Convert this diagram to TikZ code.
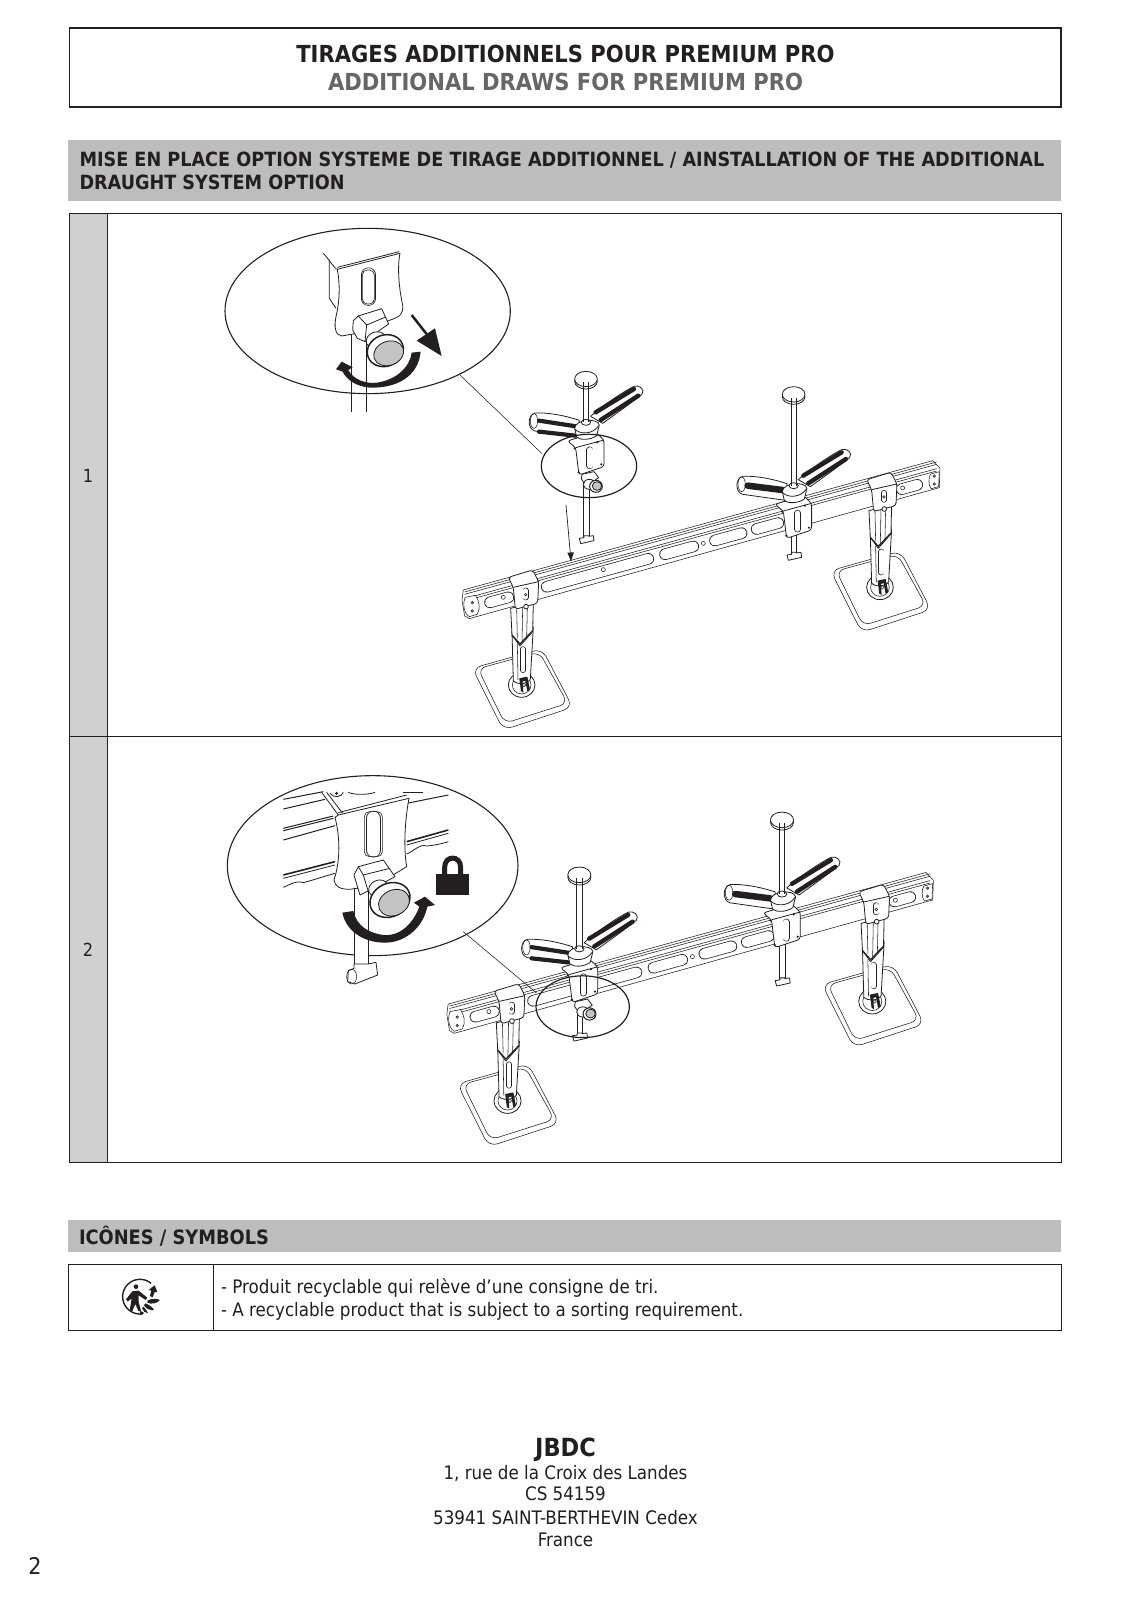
\documentclass[tikz,border=0pt]{standalone}
\usepackage{fontspec}
\setmainfont{DejaVu Sans Condensed}
\usetikzlibrary{calc}
\definecolor{bandgrey}{HTML}{BDBDBD}
\definecolor{cellgrey}{HTML}{D0D0D0}
\definecolor{knobgrey}{HTML}{C4C4C4}
\definecolor{inkc}{HTML}{231F20}
\tikzset{
 ln/.style={draw=inkc,line width=0.8pt,line join=round},
 wln/.style={ln,fill=white},
 thn/.style={draw=inkc,line width=0.55pt},
 wthn/.style={thn,fill=white,line join=round},
 frame/.style={draw=inkc,line width=1pt},
 lab/.style={inner sep=0pt,outer sep=0pt,text=inkc},
 bodyf/.style={font=\fontsize{18.6}{22}\selectfont},
}
\newcommand\slotm[5]{\draw[inkc,line width=#5pt,line cap=round] (#1,#2)--(#3,#4);\draw[white,line width=#5pt-1.4pt,line cap=round] (#1,#2)--(#3,#4);}
\newcommand\barslot[2]{\pgfmathsetmacro\ya{745-0.275*(#1-85)}\pgfmathsetmacro\yb{745-0.275*(#2-85)}\slotm{#1}{\ya}{#2}{\yb}{11.5}}
\newcommand\railline[1]{\pgfmathsetmacro\yr{#1-390}\draw[thn] (74,#1)--(1490,\yr);}
% bar with slots
\newcommand\barm{
 \draw[wthn] (70,690)--(1478,302)--(1500,325)--(1498,383)--(88,776)--(74,768)--(66,720)--cycle;
 \foreach \yy in {696,703,716,723}{\railline{\yy}}
 \draw[wthn] (76,712)..controls (68,728) and (70,760)..(88,770)--(112,763)..controls (122,745) and (118,722)..(106,706)--cycle;
 \draw[wthn] (1472,342)..controls (1465,352) and (1465,378)..(1474,386)--(1496,380)--(1498,335)--cycle;
 \foreach \p in {(97,728),(97,753),(1483,348),(1483,372)}{\draw[inkc,fill=inkc!60] \p circle (4);}
 \barslot{150}{205}\barslot{320}{625}\barslot{675}{760}\barslot{825}{905}\barslot{950}{1015}\barslot{1385}{1432}
 \foreach \p in {(190,712),(490,629),(790,550),(1388,384)}{\draw[thn] \p circle (6);}
}
% leg, foot and end clamp
\newcommand\legunit[2]{\begin{scope}[shift={(#1,#2)}]
 \draw[wthn,rounded corners=9pt] (97,925)--(306,866)--(398,1042)--(190,1110)--cycle;
 \draw[thn,rounded corners=8pt] (114,926)--(298,876)--(383,1030)--(194,1090)--cycle;
 \draw[wln] (245,975) ellipse [x radius=40,y radius=37];
 \draw[thn] (245,975) ellipse [x radius=28,y radius=27];
 \draw[wln] (216,815)--(280,800)--(271,958)..controls (262,974) and (228,974)..(220,962)--cycle;
 \draw[thn] (232,850)--(234,960);
 \slotm{249}{868}{249}{930}{6}
 \draw[wln] (212,745)--(280,728)--(278,815)--(240,858)--(216,825)--cycle;
 \draw[thn] (230,745)--(232,835);\draw[thn] (248,742)--(246,850);\draw[thn] (262,738)--(260,835);
 \draw[inkc,line width=1.2pt] (216,825)--(240,852)--(278,812);
 \fill[inkc] (238,955)--(262,950)--(270,990)--(262,994)--(256,962)--(248,965)--(250,998)--(243,994)--cycle;
 \draw[thn,fill=white] (252,975) circle (5);
 \draw[wln,rounded corners=3pt] (205,652)--(278,630)--(296,665)--(293,730)--(262,738)--(226,748)--(220,682)--cycle;
 \draw[ln] (220,682)--(296,665);
 \slotm{257}{692}{257}{712}{6}
 \draw[thn] (257,704) circle (4);
 \draw[wln] (258,740) circle (7);
\end{scope}}
% hand tool: hub x,y; cap y; T y; two stripes; knob
\newcommand\toolm[6]{\begin{scope}[shift={(#1,#2)}]
 \pgfmathsetmacro\tp{#3-#2}\pgfmathsetmacro\bt{#4-#2}
 \draw[wln] (-9,100) rectangle (7,\bt);
 \draw[wln] (-22,\bt-2)--(-8,\bt-4)--(-8,\bt-10)--(6,\bt-10)--(6,\bt-8)--(20,\bt-10)--(22,\bt+5)--(-18,\bt+14)--cycle;
 \draw[wln,rounded corners=3pt] (-58,48)--(27,22)--(52,45)--(52,125)--(-23,150)--(-33,68)--cycle;
 \draw[ln] (-33,68)--(52,45);
 \slotm{10}{75}{10}{122}{7}
 \foreach \p in {(-36,70),(32,52),(-24,142),(44,118)}{\fill[inkc] \p circle (3.5);}
 \draw[wln] (-10,\tp+10) rectangle (6,-5);
 \draw[wln] (-2,\tp+7) ellipse [x radius=34,y radius=23];
 \draw[wln] (-2,\tp) ellipse [x radius=34,y radius=23];
 % right handle
 \draw[wln] (12,-26)--(30,-42)..controls (70,-72) and (110,-100)..(142,-116)..controls (158,-122) and (176,-106)..(166,-92)..controls (125,-60) and (90,-35)..(48,-5)--cycle;
 \draw[inkc,line width=4.4pt,line cap=round] (27,-38)--(142,-108);
 \draw[inkc,line width=4.4pt,line cap=round] (42,-15)--(155,-88);
 % left handle
 \draw[wln] (-22,-14)..controls (-70,-30) and (-120,-38)..(-155,-36)..controls (-178,-30) and (-178,12)..(-155,18)..controls (-110,24) and (-60,32)..(-24,36)--cycle;
 \draw[thn] (-158,-12) ellipse [x radius=11,y radius=22];
 \ifnum#5=1
  \draw[inkc,line width=4.2pt,line cap=round] (-143,-13)--(-32,4);
  \draw[inkc,line width=4.2pt,line cap=round] (-143,20)--(-34,32);
 \else
  \draw[inkc,line width=6.5pt,line cap=round] (-140,-8)--(-36,5);
 \fi
 % hub
 \draw[wln] (-36,10)..controls (-34,-18) and (34,-22)..(38,0)--(30,32)..controls (10,46) and (-20,46)..(-30,36)--cycle;
 \draw[ln] (-36,12)..controls (-20,30) and (20,28)..(36,2);
 \draw[wln] (-2,-8) ellipse [x radius=14,y radius=9];
 \draw[wln] (-10,\tp+10) -- (-10,-8) (6,\tp+10) -- (6,-8);
 \ifnum#6=1
  \draw[wln] (-14,148)--(22,140)--(36,158)--(10,176)--(-6,176)--(-16,162)--cycle;
  \draw[wln] (8,178) ellipse [x radius=18,y radius=15];
  \draw[wln,line width=1pt] (28,184) ellipse [x radius=19,y radius=18];
  \draw[ln,fill=knobgrey] (31,183) ellipse [x radius=14,y radius=13];
 \fi
\end{scope}}
\begin{document}
\begin{tikzpicture}[x=1pt,y=-1pt]
\useasboundingbox[fill=white] (0,0) rectangle (1132,1600);
% frames
\draw[inkc,line width=1.5pt] (69.5,28) rectangle (1061,107);
\fill[bandgrey] (68,140) rectangle (1061,201);
\fill[cellgrey] (69,213) rectangle (107.5,1162);
\draw[frame] (69,213) rectangle (1061,1162);
\draw[frame] (107.5,213)--(107.5,1162);
\draw[frame] (69,736)--(1061,736);
\fill[bandgrey] (68,1220) rectangle (1061,1252);
\draw[frame] (68.5,1264.5) rectangle (1061,1330);
\draw[frame] (213.5,1264.5)--(213.5,1330);
% texts
\node[lab,anchor=base,font=\fontsize{23.45}{26}\selectfont\bfseries] (t1) at (565.5,62.3) {TIRAGES ADDITIONNELS POUR PREMIUM PRO};
\node[lab,anchor=base,font=\fontsize{23.45}{26}\selectfont\bfseries,text=black!60] (t2) at (565.5,90.7) {ADDITIONAL DRAWS FOR PREMIUM PRO};
\node[lab,anchor=base west,font=\fontsize{19.6}{22}\selectfont\bfseries] (b1) at (79.5,166.7) {MISE EN PLACE OPTION SYSTEME DE TIRAGE ADDITIONNEL / AINSTALLATION OF THE ADDITIONAL};
\node[lab,anchor=base west,font=\fontsize{19.6}{22}\selectfont\bfseries] (b2) at (79.5,189.3) {DRAUGHT SYSTEM OPTION};
\node[lab,anchor=base,font=\fontsize{18}{20}\selectfont] (n1) at (88,482) {1};
\node[lab,anchor=base,font=\fontsize{18}{20}\selectfont] (n2) at (88,956) {2};
\node[lab,anchor=base west,font=\fontsize{19.8}{22}\selectfont\bfseries] (ic) at (79,1244) {ICÔNES / SYMBOLS};
\node[lab,anchor=base west,bodyf] (s1) at (221,1293) {- Produit recyclable qui relève d’une consigne de tri.};
\node[lab,anchor=base west,bodyf] (s2) at (221,1316) {- A recyclable product that is subject to a sorting requirement.};
\node[lab,anchor=base,font=\fontsize{25}{28}\selectfont\bfseries] (j0) at (565.5,1456) {JBDC};
\node[lab,anchor=base,bodyf] (j1) at (565.5,1479) {1, rue de la Croix des Landes};
\node[lab,anchor=base,bodyf] (j2) at (565.5,1500) {CS 54159};
\node[lab,anchor=base,bodyf] (j3) at (565.5,1524) {53941 SAINT-BERTHEVIN Cedex};
\node[lab,anchor=base,bodyf] (j4) at (565.5,1546) {France};
\node[lab,anchor=base,font=\fontsize{23}{26}\selectfont] (pg) at (35,1574) {2};
% recycling symbol
\begin{scope}[shift={(60,1260)},scale=0.3333]
 \draw[inkc,line width=1.4pt] plot[domain=50:280,samples=40] ({240+52*cos(\x)},{110-52*sin(\x)});
 \fill[inkc] (228,80) circle (7);
 \fill[inkc] (217,94)--(236,92)--(262,113)--(257,120)--(236,106)--(236,126)--(243,152)--(235,153)--(226,132)--(217,153)--(209,152)--(215,116)--(203,124)--(198,118)--cycle;
 \fill[inkc] (284,76)--(292,96)--(284,96)--(278,112)--(270,108)--(274,92)--(266,90)--cycle;
 \fill[inkc] (262,122)..controls (275,114) and (292,116)..(300,120)..controls (292,130) and (274,134)..(262,128)--cycle;
 \fill[inkc] (256,130)..controls (268,134) and (278,142)..(282,150)..controls (270,152) and (258,146)..(252,136)--cycle;
 \fill[inkc] (250,140)..controls (256,146) and (262,152)..(264,160)..controls (256,160) and (248,152)..(246,144)--cycle;
 \fill[inkc] (240,152)--(253,159)--(240,166)--cycle;
\end{scope}
% panel 1 inset
\begin{scope}[shift={(200,210)},scale=0.3333]
 \draw[ln,line width=1.1pt] (503,303) ellipse [x radius=428,y radius=248];
 \draw[ln] (455,370)--(455,605) (498,390)--(498,605);
 \draw[ln] (370,130)..controls (385,145) and (395,165)..(410,178);
 \draw[ln] (388,150)--(388,265)--(408,295);
 \draw[wln] (412,178)--(600,130)..controls (590,180) and (600,250)..(608,285)..controls (610,310) and (605,320)..(565,332)--(460,372)--(425,378)..controls (405,375) and (402,350)..(408,320)..controls (420,270) and (420,220)..(412,178)--cycle;
 \draw[ln] (412,172)--(598,125);
 \slotm{505}{195}{505}{265}{15}
 \draw[inkc,line width=0.6pt,rounded corners=5pt] (487,180) rectangle (523,282);
 \draw[wln] (460,332)--(475,318)--(545,296)--(566,342)--(540,360)--(495,395)--(472,385)--(458,360)--cycle;
 \draw[ln] (475,318)--(500,345)--(495,395) (500,345)--(555,322);
 \draw[wln,rotate around={20:(528,390)}] (528,390) ellipse [x radius=30,y radius=24];
 \draw[wln,rotate around={20:(556,422)},line width=1.5pt] (556,422) ellipse [x radius=55,y radius=47];
 \draw[ln,fill=knobgrey,rotate around={20:(566,430)}] (566,430) ellipse [x radius=46,y radius=36];
 \fill[inkc] (662,425)..controls (655,500) and (590,535)..(510,533)..controls (470,530) and (440,510)..(428,485)--(408,478)--(425,455)--(458,472)--(445,480)..controls (460,510) and (500,522)..(530,518)..controls (590,510) and (630,470)..(635,428)--cycle;
 \draw[inkc,line width=2.5pt] (635,315)--(690,385);
 \fill[inkc] (705,355)--(725,438)--(650,392)--cycle;
 \coordinate (ins1a) at (780,495);
 \coordinate (ins1b) at (1025,730);
 \draw[thn] (ins1a)--(ins1b);
\end{scope}
% panel 1 assembly
\begin{scope}[shift={(440,360)},scale=0.3333]
 \barm
 \legunit{0}{0}
 \legunit{1075}{-293}
 \toolm{1063}{385}{103}{587}{0}{0}
 \toolm{440}{195}{57}{537}{1}{1}
 \draw[ln,line width=1.2pt] (447,318) ellipse [x radius=143,y radius=95];
 \coordinate (ar1a) at (378,435);
 \coordinate (ar1b) at (393,603);
 \draw[thn,line width=0.7pt] (ar1a)--(ar1b);
 \fill[inkc] (ar1b)--(382,578)--(402,577)--cycle;
\end{scope}
% panel 2 inset
\begin{scope}[shift={(210,760)},scale=0.3333]
 \draw[ln,line width=1.1pt] (488,317) ellipse [x radius=436,y radius=270];
 \draw[ln,line width=1pt] (220,118)--(340,95) (220,147)--(345,118) (220,205)--(370,168) (220,212)--(370,175) (220,240)--(375,197);
 \draw[inkc,line width=1.6pt] (220,345)--(375,305);
 \draw[ln] (220,355)--(375,315);
 \draw[ln] (220,382)..controls (240,375) and (255,360)..(280,368)..controls (310,360) and (340,350)..(375,340);
 \draw[ln,line width=1pt] (590,130)--(715,105);
 \draw[inkc,line width=1.6pt] (590,245)--(715,210);
 \draw[ln] (590,255)--(715,220);
 \draw[ln] (590,282)..controls (610,275) and (630,250)..(650,258)..controls (680,255) and (700,250)..(715,245);
 \draw[ln] (580,97)--(640,97);
 \draw[ln] (335,97)--(385,165) (350,97)--(398,160);
 \draw[ln] (360,100)..controls (370,115) and (395,112)..(400,97);
 \fill[inkc] (380,100) circle (5);
 \draw[ln] (415,97)..controls (430,105) and (475,105)..(495,97);
 \draw[wln] (432,385) rectangle (475,612);
 \draw[wln] (375,172)..controls (390,230) and (392,300)..(372,360)..controls (375,380) and (390,388)..(420,388)--(500,375)--(590,320)..controls (580,260) and (585,180)..(597,115)--(385,165)--cycle;
 \draw[ln] (385,158)--(590,105);
 \slotm{490}{175}{490}{270}{15}
 \draw[inkc,line width=0.6pt,rounded corners=5pt] (463,155) rectangle (517,290);
 \draw[wln] (415,632)--(432,625)--(432,612)--(475,612)--(475,612)--(498,607)--(503,645)--(435,672)--(413,665)--cycle;
 \draw[thn] (425,650) ellipse [x radius=15,y radius=22];
 \draw[wln] (432,345)--(445,320)--(520,300)--(555,350)--(490,385)--(450,405)--cycle;
 \draw[ln] (460,345)--(445,320) (460,345)--(540,325) (460,345)--(475,395);
 \draw[wln,rotate around={25:(505,385)}] (505,385) ellipse [x radius=30,y radius=24];
 \draw[wln,rotate around={25:(540,420)},line width=1.5pt] (540,420) ellipse [x radius=62,y radius=50];
 \draw[ln,fill=knobgrey,rotate around={25:(552,428)}] (552,428) ellipse [x radius=48,y radius=38];
 \fill[inkc] (397,458)..controls (410,520) and (470,550)..(530,548)..controls (590,545) and (640,500)..(652,440)--(675,435)--(645,410)--(612,428)--(628,440)..controls (610,490) and (570,530)..(520,525)..controls (480,520) and (440,500)..(430,453)--cycle;
 \fill[inkc] (678,342) rectangle (777,405);
 \draw[inkc,line width=5pt] (704,345)--(704,322)..controls (704,285) and (752,285)..(752,322)--(752,345);
 \coordinate (ins2a) at (760,515);
\end{scope}
% panel 2 assembly
\begin{scope}[shift={(424.4,770)},scale=0.3393]
 \barm
 \legunit{0}{0}
 \legunit{1075}{-293}
 \toolm{1056}{373.5}{147}{622.7}{0}{0}
 \toolm{458.7}{535}{309}{785}{1}{1}
 \draw[ln,line width=1.2pt] (466.5,697.6) ellipse [x radius=137.5,y radius=91];
 \coordinate (ins2b) at (330,657);
\end{scope}
\draw[thn] (ins2a)--(ins2b);
\end{tikzpicture}
\end{document}
